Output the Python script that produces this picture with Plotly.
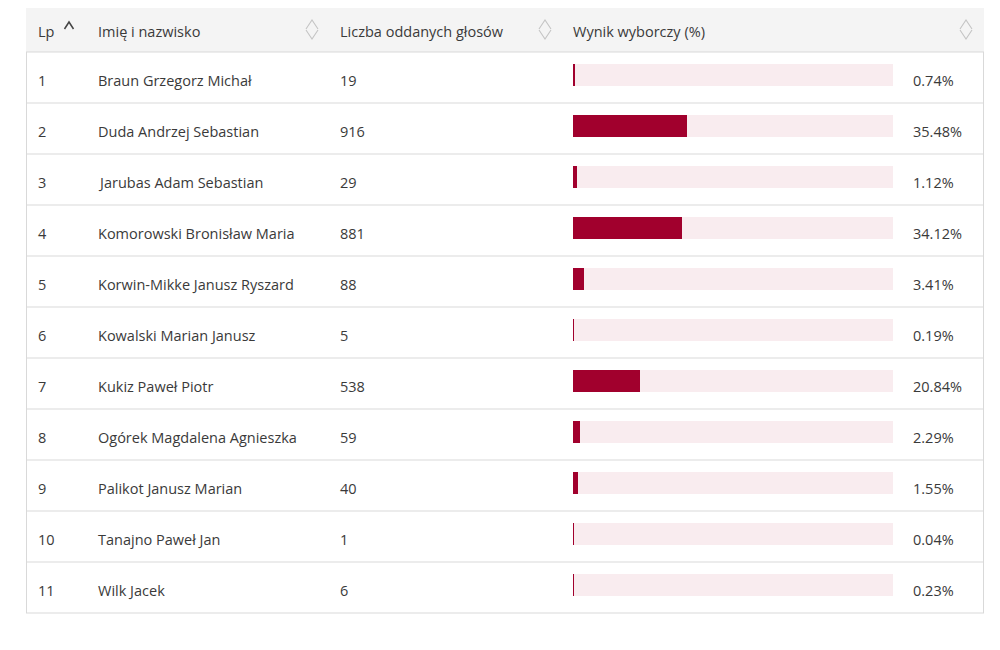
import plotly.graph_objects as go

# dane z tabeli wynikow
lp = [1, 2, 3, 4, 5, 6, 7, 8, 9, 10, 11]
kandydaci = [
    "Braun Grzegorz Michał",
    "Duda Andrzej Sebastian",
    "Jarubas Adam Sebastian",
    "Komorowski Bronisław Maria",
    "Korwin-Mikke Janusz Ryszard",
    "Kowalski Marian Janusz",
    "Kukiz Paweł Piotr",
    "Ogórek Magdalena Agnieszka",
    "Palikot Janusz Marian",
    "Tanajno Paweł Jan",
    "Wilk Jacek",
]
glosy = [19, 916, 29, 881, 88, 5, 538, 59, 40, 1, 6]
wynik = [0.74, 35.48, 1.12, 34.12, 3.41, 0.19, 20.84, 2.29, 1.55, 0.04, 0.23]
naglowki = ["Lp", "Imię i nazwisko", "Liczba oddanych głosów", "Wynik wyborczy (%)"]
skala_max = 100

W, H = 1000, 650
FONT = "Open Sans"
TXT = "#3a3a3a"
LINIA = "#d9d9d9"
FS = 14.5

top_rows, bottom_rows = 52, 613
kol_x = [36, 96, 338, 571, 911]


def py(p):
    return 1 - p / H


fig = go.Figure()

# tlo paska (skala 0-100%)
fig.add_trace(go.Bar(
    y=lp, x=[skala_max] * len(lp), orientation="h",
    xaxis="x2", yaxis="y2", marker=dict(color="#f9ecef", line_width=0),
    width=0.43, offset=-0.265, hoverinfo="skip", showlegend=False,
))
# wynik
fig.add_trace(go.Bar(
    y=lp, x=wynik, orientation="h",
    xaxis="x2", yaxis="y2", marker=dict(color="#a1002d", line_width=0),
    width=0.43, offset=-0.265, showlegend=False,
    customdata=kandydaci, hovertemplate="%{customdata}: %{x}%<extra></extra>",
))

shapes = []
# naglowek
shapes.append(dict(type="rect", xref="paper", yref="paper", x0=26 / W, x1=984 / W,
                   y0=py(52), y1=py(8), fillcolor="#f4f4f4", line_width=0, layer="below"))
# linie wierszy
for i in range(len(lp) + 1):
    yy = top_rows + i * (bottom_rows - top_rows) / len(lp)
    shapes.append(dict(type="line", xref="paper", yref="paper", x0=26 / W, x1=984 / W,
                       y0=py(yy), y1=py(yy), line=dict(color=LINIA, width=1)))
for xx in [26.5, 983.5]:
    shapes.append(dict(type="line", xref="paper", yref="paper", x0=xx / W, x1=xx / W,
                       y0=py(top_rows), y1=py(bottom_rows), line=dict(color=LINIA, width=1)))

# ikony sortowania
def chevron(cx, cy, up, color, w=1.2, dx=5, dy=4):
    if up:
        p = f"M {(cx-dx)/W},{py(cy+dy)} L {cx/W},{py(cy-dy)} L {(cx+dx)/W},{py(cy+dy)}"
    else:
        p = f"M {(cx-dx)/W},{py(cy-dy)} L {cx/W},{py(cy+dy)} L {(cx+dx)/W},{py(cy-dy)}"
    return dict(type="path", xref="paper", yref="paper", path=p, line=dict(color=color, width=w))

shapes.append(chevron(69, 25.5, True, "#444444", 1.5, 4.5, 3.5))
for cx in [312, 545, 966]:
    shapes.append(chevron(cx, 24.5, True, "#c4c4c4", 1.1, 6, 4.5))
    shapes.append(chevron(cx, 34.5, False, "#c4c4c4", 1.1, 6, 4.5))

ann = []
for x, t in zip(kol_x[:4], naglowki):
    ann.append(dict(x=x / W, y=py(31), xref="paper", yref="paper", text=t, showarrow=False,
                    xanchor="left", yanchor="middle", font=dict(family=FONT, size=FS, color=TXT)))

for i in range(len(lp)):
    wiersz = [str(lp[i]), kandydaci[i], str(glosy[i])]
    for x, t in zip(kol_x[:3], wiersz):
        ann.append(dict(x=x / W, y=lp[i], xref="paper", yref="y2", text=t, showarrow=False,
                        xanchor="left", yanchor="middle", yshift=-3,
                        font=dict(family=FONT, size=FS, color=TXT)))
    ann.append(dict(x=kol_x[4] / W, y=lp[i], xref="paper", yref="y2", text=f"{wynik[i]:.2f}%",
                    showarrow=False, xanchor="left", yanchor="middle", yshift=-3,
                    font=dict(family=FONT, size=FS, color=TXT)))

fig.update_layout(
    width=W, height=H, margin=dict(l=0, r=0, t=0, b=0),
    paper_bgcolor="white", plot_bgcolor="rgba(0,0,0,0)",
    barmode="overlay", bargap=0,
    xaxis=dict(visible=False, range=[0, 1]),
    yaxis=dict(visible=False, range=[0, 1]),
    xaxis2=dict(domain=[573 / W, 893 / W], range=[0, skala_max], visible=False, anchor="y2"),
    yaxis2=dict(domain=[py(bottom_rows), py(top_rows)], range=[len(lp) + 0.5, 0.5],
                visible=False, anchor="x2"),
    shapes=shapes, annotations=ann,
    font=dict(family=FONT),
)

fig.write_html("out.html", config={"displayModeBar": False},
               post_script="document.body.style.margin='0';")
